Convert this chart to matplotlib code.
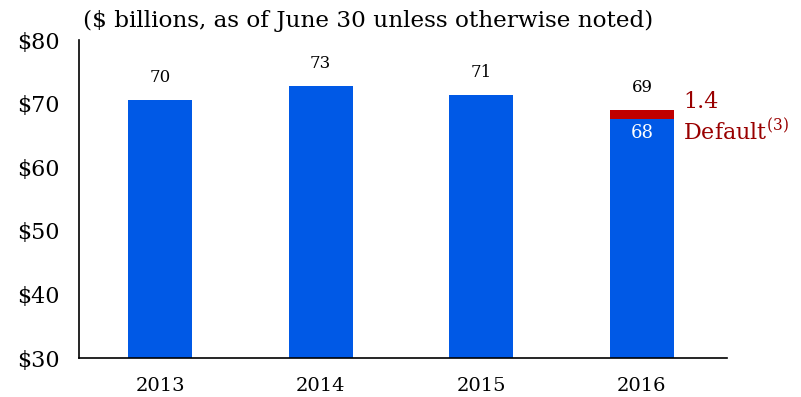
import matplotlib
matplotlib.use("Agg")
import matplotlib.pyplot as plt

years = ["2013", "2014", "2015", "2016"]
base_values = [70.5, 72.8, 71.3, 67.6]
default_values = [0, 0, 0, 1.4]
total_labels = ["70", "73", "71", "69"]
y_ticks = [30, 40, 50, 60, 70, 80]

BLUE = "#0059E6"
RED = "#C00000"
DARKRED = "#990000"

plt.rcParams['font.family'] = ['DejaVu Serif']

fig = plt.figure(figsize=(8.01, 3.97), dpi=100)
ax = fig.add_axes([79/801, 1 - 358/397, (727-79)/801, (358-40)/397])

x = list(range(len(years)))
ax.bar(x, [b - 30 for b in base_values], bottom=30, width=0.4, color=BLUE)
ax.bar(x, default_values, bottom=base_values, width=0.4, color=RED)

for i in x:
    top = base_values[i] + default_values[i]
    ax.text(i, top + 2.2, total_labels[i], ha='center', va='bottom', fontsize=12, color='black')

ax.text(3, base_values[3] - 2.3, "68", ha='center', va='center', fontsize=13, color='white')
ax.text(3.255, 70.3, "1.4", ha='left', va='center', fontsize=16, color=DARKRED)
ax.text(3.255, 65.6, r"Default$^{\mathregular{(3)}}$", ha='left', va='center', fontsize=16, color=DARKRED)

ax.set_xlim(-0.505, 3.53)
ax.set_ylim(30, 80)
ax.set_yticks(y_ticks)
ax.set_yticklabels([f"${v}" for v in y_ticks], fontsize=16)
ax.set_xticks(x)
ax.set_xticklabels(years, fontsize=14)
ax.tick_params(axis='both', length=0)
ax.tick_params(axis='x', pad=14)
ax.tick_params(axis='y', pad=14)
for s in ['top', 'right']:
    ax.spines[s].set_visible(False)
for s in ['left', 'bottom']:
    ax.spines[s].set_linewidth(1.2)

fig.text(83/801, 1 - 21/397, "($ billions, as of June 30 unless otherwise noted)", ha='left', va='center', fontsize=16.7)

fig.savefig("out.png", dpi=100)
